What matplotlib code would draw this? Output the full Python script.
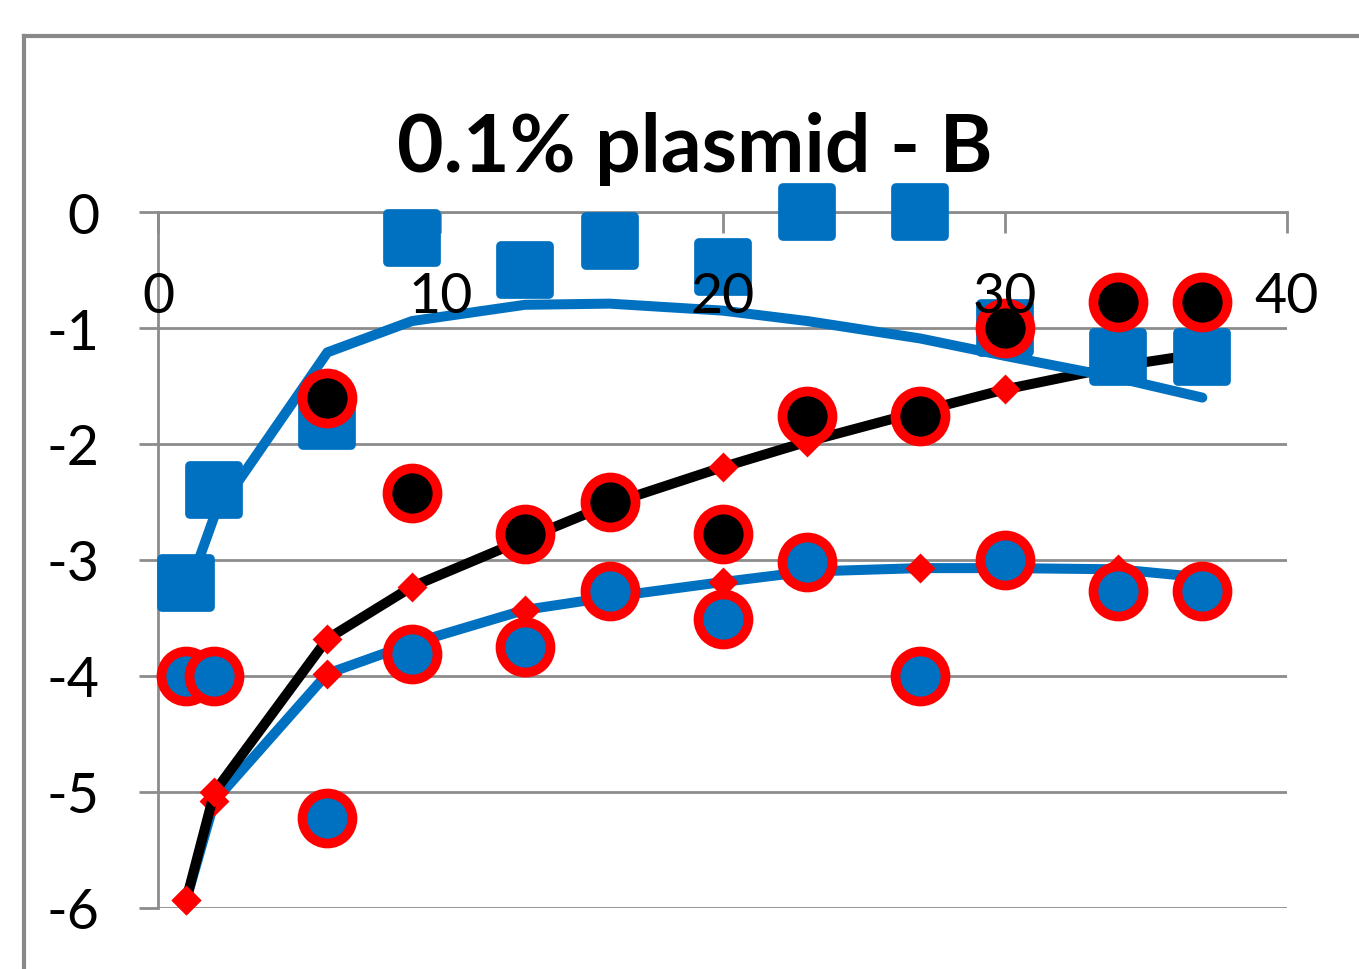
import matplotlib
matplotlib.use("Agg")
import matplotlib.pyplot as plt
from matplotlib.lines import Line2D
from matplotlib.markers import MarkerStyle
import numpy as np

# sampling times
hours = [1, 2, 6, 9, 13, 16, 20, 23, 27, 30, 34, 37]

# measured series (log scale values)
squares = [-3.2, -2.4, -1.8, -0.22, -0.5, -0.25, -0.47, 0.0, 0.0, -1.0, -1.25, -1.25]
black_dots = [np.nan, np.nan, -1.6, -2.42, -2.78, -2.5, -2.78, -1.76, -1.76, -1.0, -0.78, -0.78]
blue_dots = [-4.0, -4.0, -5.22, -3.81, -3.75, -3.27, -3.51, -3.02, -4.0, -3.0, -3.27, -3.27]

# model curves
square_fit = [-3.3, -2.62, -1.21, -0.94, -0.8, -0.79, -0.85, -0.94, -1.09, -1.24, -1.43, -1.6]
black_fit = [-5.93, -5.0, -3.68, -3.23, -2.82, -2.52, -2.2, -1.98, -1.72, -1.53, -1.33, -1.22]
blue_fit = [-5.93, -5.08, -3.98, -3.72, -3.43, -3.32, -3.19, -3.1, -3.07, -3.07, -3.08, -3.15]

x_ticks = [0, 10, 20, 30, 40]
y_ticks = [0, -1, -2, -3, -4, -5, -6]
title = "0.1% plasmid - B"

BLUE = "#0070C0"
RED = "#FF0000"
GRID = "#8C8C8C"
FONT = ["Lato", "DejaVu Sans"]

W, H = 1359, 970
fig = plt.figure(figsize=(W / 100, H / 100), dpi=100)
fig.patch.set_facecolor("white")

# chart frame (left and top edges)
frame_x = 24 / W
frame_y = 1 - 37 / H
fig.add_artist(Line2D([frame_x, frame_x], [0, frame_y], transform=fig.transFigure,
                      color="#898989", lw=3.0, solid_capstyle="projecting"))
fig.add_artist(Line2D([frame_x, 1], [frame_y, frame_y], transform=fig.transFigure,
                      color="#898989", lw=3.0, solid_capstyle="projecting"))

ax = fig.add_axes([158 / W, 61 / H, 1129 / W, 696 / H])
ax.set_xlim(0, 40)
ax.set_ylim(-6, 0)

for side in ("right", "bottom"):
    ax.spines[side].set_visible(False)
for side in ("left", "top"):
    ax.spines[side].set_color(GRID)
    ax.spines[side].set_linewidth(2.0)

ax.set_yticks(y_ticks)
ax.set_yticklabels([str(v) for v in y_ticks], fontfamily=FONT, fontsize=40)
ax.yaxis.grid(True, color=GRID, lw=2.0)
ax.tick_params(axis="y", direction="out", length=14, width=2.0, color=GRID, pad=28)

ax.set_xticks(x_ticks)
ax.xaxis.set_ticks_position("top")
ax.tick_params(axis="x", direction="in", length=15, width=2.0, color=GRID,
               labeltop=False, labelbottom=False)
for xt in x_ticks:
    ax.annotate(str(xt), xy=(xt, 1), xycoords=("data", "axes fraction"),
                xytext=(0, -61), textcoords="offset points",
                ha="center", va="center", fontsize=40, fontfamily=FONT,
                zorder=10, annotation_clip=False)

# model curves
ax.plot(hours, blue_fit, color=BLUE, lw=7.2, marker="D", ms=13,
        mfc=RED, mec=RED, mew=2, zorder=3, clip_on=False)
ax.plot(hours, black_fit, color="black", lw=7.2, marker="D", ms=13,
        mfc=RED, mec=RED, mew=2, zorder=3.2, clip_on=False)
ax.plot(hours, square_fit, color=BLUE, lw=7.2, zorder=3.4, clip_on=False,
        solid_capstyle="round")

# measurements
sq_marker = MarkerStyle("s", joinstyle="round")
ax.plot(hours, squares, ls="none", marker=sq_marker, ms=34, mfc=BLUE, mec=BLUE,
        mew=7, zorder=4, clip_on=False)
ax.plot(hours, black_dots, ls="none", marker="o", ms=36, mfc="black", mec=RED,
        mew=7, zorder=5, clip_on=False)
ax.plot(hours, blue_dots, ls="none", marker="o", ms=36, mfc=BLUE, mec=RED,
        mew=7, zorder=5, clip_on=False)

fig.text(695 / W, 1 - 172 / H, title, ha="center", va="baseline",
         fontsize=58, fontweight="bold", fontfamily=FONT)

fig.savefig("out.png", dpi=100, facecolor="white")
